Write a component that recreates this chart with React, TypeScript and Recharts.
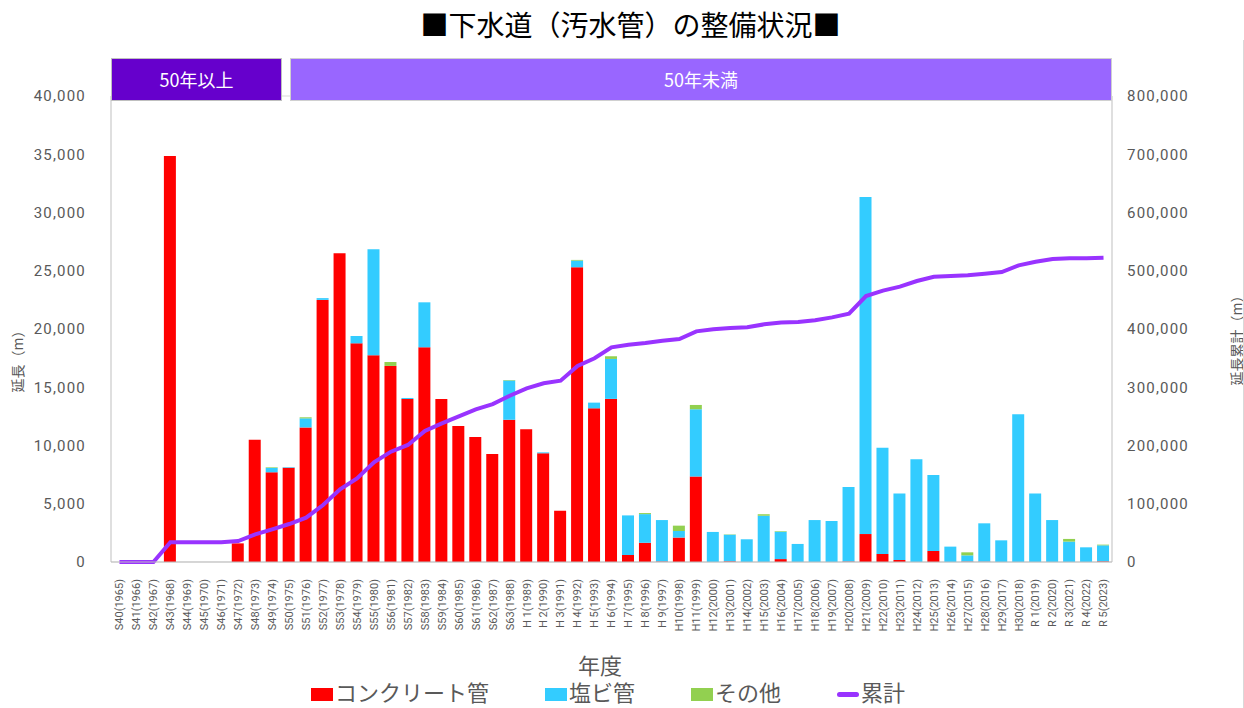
import React from "react";
import { ComposedChart, Bar, Line, XAxis, YAxis, CartesianGrid } from "recharts";

const categories = [
  "S40(1965)", "S41(1966)", "S42(1967)", "S43(1968)", "S44(1969)", "S45(1970)", "S46(1971)", "S47(1972)",
  "S48(1973)", "S49(1974)", "S50(1975)", "S51(1976)", "S52(1977)", "S53(1978)", "S54(1979)", "S55(1980)",
  "S56(1981)", "S57(1982)", "S58(1983)", "S59(1984)", "S60(1985)", "S61(1986)", "S62(1987)", "S63(1988)",
  "H 1(1989)", "H 2(1990)", "H 3(1991)", "H 4(1992)", "H 5(1993)", "H 6(1994)", "H 7(1995)", "H 8(1996)",
  "H 9(1997)", "H10(1998)", "H11(1999)", "H12(2000)", "H13(2001)", "H14(2002)", "H15(2003)", "H16(2004)",
  "H17(2005)", "H18(2006)", "H19(2007)", "H20(2008)", "H21(2009)", "H22(2010)", "H23(2011)", "H24(2012)",
  "H25(2013)", "H26(2014)", "H27(2015)", "H28(2016)", "H29(2017)", "H30(2018)", "R 1(2019)", "R 2(2020)",
  "R 3(2021)", "R 4(2022)", "R 5(2023)",
];

const concrete = [
  0, 0, 0, 34850, 0, 0, 0, 1600, 10500, 7700, 8100, 11550, 22500, 26500, 18770, 17740,
  16830, 13990, 18430, 14000, 11680, 10730, 9270, 12200, 11400, 9330, 4400, 25300, 13190, 14000,
  600, 1650, 50, 2100, 7330, 0, 60, 0, 0, 250, 0, 0, 0, 50, 2400, 690, 170, 0, 950, 0,
  40, 30, 0, 0, 0, 0, 0, 0, 60,
];

const pvc = [
  0, 0, 0, 0, 0, 0, 0, 0, 0, 380, 50, 780, 150, 0, 630, 9100,
  0, 90, 3860, 0, 0, 0, 0, 3370, 0, 80, 0, 570, 490, 3430,
  3400, 2460, 3550, 560, 5780, 2580, 2280, 1950, 3970, 2350, 1550, 3600, 3520, 6390, 28930, 9120,
  5700, 8820, 6520, 1320, 530, 3290, 1860, 12680, 5870, 3600, 1750, 1260, 1370,
];

const other = [
  0, 0, 0, 0, 0, 0, 0, 0, 0, 50, 0, 90, 0, 0, 0, 0,
  340, 0, 0, 0, 0, 0, 0, 60, 0, 0, 0, 60, 0, 230,
  0, 90, 0, 460, 370, 0, 30, 0, 130, 50, 0, 0, 0, 0, 0, 0,
  0, 0, 0, 0, 260, 0, 0, 0, 0, 0, 230, 0, 60,
];

const cumulative = [
  0, 0, 0, 34000, 34000, 34000, 34000, 36000, 47500, 56100, 65200, 76100, 97800, 124800, 143600, 171100,
  189400, 200900, 224900, 238100, 250100, 262100, 271000, 285500, 298200, 306800, 311300, 336500, 349700, 368600,
  373000, 375900, 379900, 382800, 396000, 399500, 401700, 402900, 408000, 411000, 412000, 414900, 420000, 426300,
  456600, 465800, 472700, 482400, 489800, 491000, 492100, 495000, 497800, 509300, 515500, 520200, 521300, 521300, 522400,
];

const leftTicks = [0, 5000, 10000, 15000, 20000, 25000, 30000, 35000, 40000];
const rightTicks = [0, 100000, 200000, 300000, 400000, 500000, 600000, 700000, 800000];

const data = categories.map((c, i) => ({
  name: c,
  concrete: concrete[i],
  pvc: pvc[i],
  other: other[i],
  cumulative: cumulative[i],
}));

const CJK = "'Noto Sans CJK JP', 'Noto Sans', sans-serif";
const NUM = "Roboto, 'Noto Sans', sans-serif";
const MIX = "Roboto, 'Noto Sans CJK JP', sans-serif";

const fmt = (v: number) => v.toLocaleString("en-US");

const XTick = (props: any) => {
  const { x, y, payload } = props;
  return (
    <text
      x={x}
      y={y}
      transform={`rotate(-90, ${x}, ${y})`}
      textAnchor="end"
      dy="0.35em"
      dx={-9}
      fontSize={11}
      fontFamily={NUM}
      fill="#595959"
    >
      {payload.value}
    </text>
  );
};

export default function App() {
  return (
    <div style={{ position: "absolute", left: 0, top: 0, width: 1244, height: 708, background: "#fff", fontFamily: CJK }}>
      <div
        style={{
          position: "absolute",
          left: 0,
          top: 5,
          width: 1261,
          textAlign: "center",
          fontSize: 28,
          lineHeight: "38px",
          color: "#000",
          fontFamily: CJK,
        }}
      >
        ■下水道（汚水管）の整備状況■
      </div>
      <ComposedChart
        width={1244}
        height={708}
        data={data}
        margin={{ top: 96, right: 0, left: 0, bottom: 0 }}
        barSize={12}
      >
        <CartesianGrid vertical={false} stroke="#d9d9d9" />
        <XAxis
          dataKey="name"
          interval={0}
          height={146}
          tick={<XTick />}
          tickLine={false}
          axisLine={{ stroke: "#bfbfbf" }}
        />
        <YAxis
          yAxisId="left"
          width={111}
          domain={[0, 40000]}
          ticks={leftTicks}
          tickFormatter={fmt}
          tickLine={false}
          axisLine={{ stroke: "#bfbfbf" }}
          tick={{ fontSize: 15, fill: "#595959", fontFamily: NUM, letterSpacing: 1.2 }}
          tickMargin={19}
        />
        <YAxis
          yAxisId="right"
          orientation="right"
          width={132}
          domain={[0, 800000]}
          ticks={rightTicks}
          tickFormatter={fmt}
          tickLine={false}
          axisLine={{ stroke: "#bfbfbf" }}
          tick={{ fontSize: 15, fill: "#595959", fontFamily: NUM, letterSpacing: 1.2 }}
          tickMargin={9}
        />
        <Bar yAxisId="left" dataKey="concrete" stackId="a" fill="#FF0000" isAnimationActive={false} />
        <Bar yAxisId="left" dataKey="pvc" stackId="a" fill="#33CCFF" isAnimationActive={false} />
        <Bar yAxisId="left" dataKey="other" stackId="a" fill="#92D050" isAnimationActive={false} />
        <Line
          yAxisId="right"
          type="linear"
          dataKey="cumulative"
          stroke="#9933FF"
          strokeWidth={4}
          dot={false}
          isAnimationActive={false}
        />
      </ComposedChart>

      {/* period banners */}
      <div
        style={{
          position: "absolute",
          left: 111,
          top: 58,
          width: 171,
          height: 43,
          boxSizing: "border-box",
          background: "#6600CC",
          border: "1px solid #bfbfbf",
          color: "#fff",
          fontSize: 18,
          lineHeight: "41px",
          textAlign: "center",
          fontFamily: CJK,
        }}
      >
        50年以上
      </div>
      <div
        style={{
          position: "absolute",
          left: 290,
          top: 58,
          width: 822,
          height: 43,
          boxSizing: "border-box",
          background: "#9966FF",
          border: "1px solid #d0d0d0",
          color: "#fff",
          fontSize: 18,
          lineHeight: "41px",
          textAlign: "center",
          fontFamily: CJK,
        }}
      >
        50年未満
      </div>

      {/* axis titles */}
      <div
        style={{
          position: "absolute",
          left: 17,
          top: 358,
          transform: "translate(-50%, -50%) rotate(-90deg)",
          whiteSpace: "nowrap",
          fontSize: 14,
          color: "#595959",
          fontFamily: CJK,
        }}
      >
        延長（m）
      </div>
      <div
        style={{
          position: "absolute",
          left: 1236,
          top: 337,
          transform: "translate(-50%, -50%) rotate(-90deg)",
          whiteSpace: "nowrap",
          fontSize: 14,
          color: "#595959",
          fontFamily: CJK,
        }}
      >
        延長累計（m）
      </div>
      <div style={{ position: "absolute", left: 1243, top: 40, width: 1, height: 668, background: "#d9d9d9" }} />

      {/* x axis title */}
      <div
        style={{
          position: "absolute",
          left: 0,
          top: 655,
          width: 1200,
          textAlign: "center",
          fontSize: 22,
          lineHeight: "24px",
          color: "#595959",
          fontFamily: MIX,
        }}
      >
        年度
      </div>

      {/* legend */}
      <div
        style={{
          position: "absolute",
          left: 311,
          top: 682,
          height: 24,
          display: "flex",
          alignItems: "center",
          gap: 56,
          fontSize: 22,
          lineHeight: "24px",
          color: "#595959",
          fontFamily: MIX,
          whiteSpace: "nowrap",
        }}
      >
        <div style={{ display: "flex", alignItems: "center" }}>
          <span style={{ display: "inline-block", width: 22, height: 13, background: "#FF0000", marginRight: 2 }} />
          コンクリート管
        </div>
        <div style={{ display: "flex", alignItems: "center" }}>
          <span style={{ display: "inline-block", width: 22, height: 13, background: "#33CCFF", marginRight: 2 }} />
          塩ビ管
        </div>
        <div style={{ display: "flex", alignItems: "center" }}>
          <span style={{ display: "inline-block", width: 22, height: 13, background: "#92D050", marginRight: 2 }} />
          その他
        </div>
        <div style={{ display: "flex", alignItems: "center" }}>
          <span style={{ display: "inline-block", width: 22, height: 5, borderRadius: 3, background: "#9933FF", marginRight: 2 }} />
          累計
        </div>
      </div>
    </div>
  );
}
